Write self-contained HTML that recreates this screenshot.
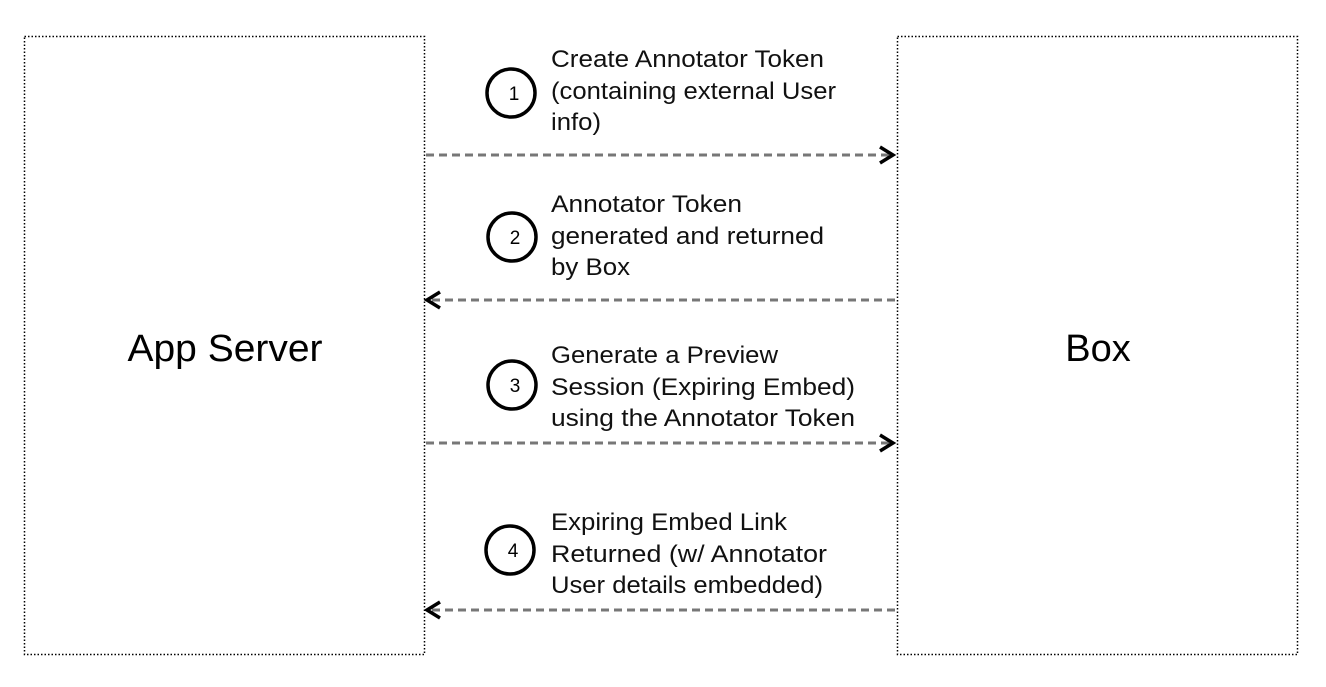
<!DOCTYPE html>
<html><head><style>body{margin:0;background:#fff}</style></head><body>
<svg width="1326" height="682" xmlns="http://www.w3.org/2000/svg" font-family="Liberation Sans, sans-serif">
<rect width="1326" height="682" fill="#fff"/>
<rect x="24.5" y="36.5" width="400" height="618" fill="none" stroke="#000" stroke-width="1.5" stroke-dasharray="1.5 2"/>
<rect x="897.5" y="36.5" width="400" height="618" fill="none" stroke="#000" stroke-width="1.5" stroke-dasharray="1.5 2"/>
<text x="225" y="361" font-size="38" text-anchor="middle" fill="#000" textLength="195" lengthAdjust="spacingAndGlyphs">App Server</text>
<text x="1098" y="361" font-size="38" text-anchor="middle" fill="#000">Box</text>
<g stroke="#777" stroke-width="3" stroke-dasharray="8 5" fill="none">
<line x1="426" y1="155" x2="890" y2="155"/>
<line x1="432" y1="300" x2="896" y2="300"/>
<line x1="426" y1="443" x2="890" y2="443"/>
<line x1="432" y1="610" x2="896" y2="610"/>
</g>
<g stroke="#000" stroke-width="3.5" fill="none">
<polyline points="880,147 893,155 880,163"/>
<polyline points="440,292 427,300 440,308"/>
<polyline points="880,435 893,443 880,451"/>
<polyline points="440,602 427,610 440,618"/>
<circle cx="511" cy="93" r="24"/>
<circle cx="512" cy="237" r="24"/>
<circle cx="512" cy="385" r="24"/>
<circle cx="510" cy="550" r="24"/>
</g>
<g font-size="19" text-anchor="middle" fill="#000">
<text x="514" y="100">1</text><text x="515" y="244">2</text><text x="515" y="392">3</text><text x="513" y="557">4</text>
</g>
<g font-size="24" fill="#111" lengthAdjust="spacingAndGlyphs">
<text x="551" y="67" textLength="273" lengthAdjust="spacingAndGlyphs">Create Annotator Token</text>
<text x="551" y="99" textLength="285" lengthAdjust="spacingAndGlyphs">(containing external User</text>
<text x="551" y="130" textLength="50" lengthAdjust="spacingAndGlyphs">info)</text>
<text x="551" y="212" textLength="191" lengthAdjust="spacingAndGlyphs">Annotator Token</text>
<text x="551" y="244" textLength="273" lengthAdjust="spacingAndGlyphs">generated and returned</text>
<text x="551" y="275" textLength="79" lengthAdjust="spacingAndGlyphs">by Box</text>
<text x="551" y="363" textLength="227" lengthAdjust="spacingAndGlyphs">Generate a Preview</text>
<text x="551" y="395" textLength="304" lengthAdjust="spacingAndGlyphs">Session (Expiring Embed)</text>
<text x="551" y="426" textLength="304" lengthAdjust="spacingAndGlyphs">using the Annotator Token</text>
<text x="551" y="530" textLength="236" lengthAdjust="spacingAndGlyphs">Expiring Embed Link</text>
<text x="551" y="562" textLength="276" lengthAdjust="spacingAndGlyphs">Returned (w/ Annotator</text>
<text x="551" y="593" textLength="272" lengthAdjust="spacingAndGlyphs">User details embedded)</text>
</g>
</svg>
</body></html>
